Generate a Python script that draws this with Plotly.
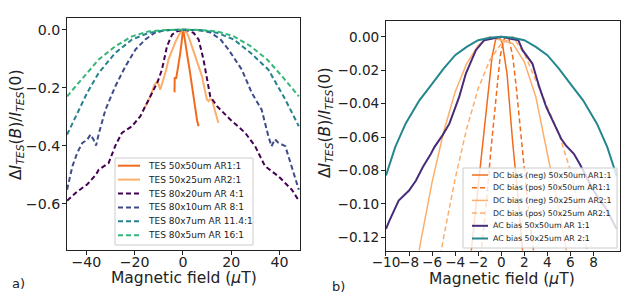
import plotly.graph_objects as go
from plotly.subplots import make_subplots

# ---------------- panel a) data ----------------
b_50x50 = [-3.7, -3.5, -3.4, -2.8, -2.2, -1.6, -1.1, -0.5, 0.0, 0.25, 0.8, 1.2, 1.65, 2.2, 2.75, 3.2, 3.7, 4.1, 4.4, 4.8, 5.3, 5.8, 6.2, 6.5]
v_50x50 = [-0.213, -0.213, -0.167, -0.167, -0.138, -0.11, -0.08, -0.04, 0.0, -0.006, -0.04, -0.06, -0.08, -0.11, -0.138, -0.165, -0.195, -0.22, -0.241, -0.255, -0.28, -0.31, -0.325, -0.333]

b_50x25 = [-16.3, -14.9, -13.0, -11.8, -10.8, -10.0, -9.4, -8.8, -8.0, -7.0, -6.0, -5.0, -3.9, -3.0, -1.8, -1.0, 0.0, 1.0, 1.65, 2.6, 3.7, 4.8, 5.8, 6.8, 7.9, 8.6, 9.2, 9.9, 10.6, 11.3, 12.0, 12.7, 13.4, 14.1, 14.7]
v_50x25 = [-0.275, -0.255, -0.22, -0.19, -0.18, -0.19, -0.207, -0.19, -0.175, -0.14, -0.103, -0.08, -0.057, -0.04, -0.02, -0.008, 0.0, -0.005, -0.011, -0.03, -0.057, -0.08, -0.103, -0.13, -0.161, -0.19, -0.218, -0.24, -0.247, -0.24, -0.241, -0.265, -0.287, -0.305, -0.322]

b_80x20 = [-48, -44, -39.7, -36, -34.9, -30.8, -28, -25.3, -21.1, -17.7, -14.9, -12.2, -10.5, -8.7, -7.5, -6.6, -4.5, -2.4, 0, 2.4, 4.4, 6.5, 8.5, 9.9, 11.3, 14.1, 16.8, 19.6, 22.3, 25.8, 29.9, 34, 39.6, 45.1, 48]
v_80x20 = [-0.59, -0.56, -0.534, -0.5, -0.483, -0.46, -0.40, -0.356, -0.333, -0.299, -0.253, -0.207, -0.18, -0.138, -0.09, -0.057, -0.017, -0.006, 0.0, -0.004, -0.011, -0.034, -0.103, -0.172, -0.23, -0.264, -0.287, -0.31, -0.33, -0.356, -0.402, -0.471, -0.506, -0.552, -0.59]

b_80x10 = [-48, -45.8, -43.8, -41.7, -39.7, -38.3, -37.0, -36.0, -34.9, -32.1, -28, -23.8, -19.7, -15.6, -11.5, -7.3, 0, 7.3, 11.5, 15.6, 18.9, 24.4, 28.5, 32.6, 35.4, 36.7, 38.1, 39.5, 42.4, 45.1, 48]
v_80x10 = [-0.552, -0.471, -0.425, -0.391, -0.38, -0.362, -0.38, -0.40, -0.36, -0.276, -0.195, -0.126, -0.069, -0.034, -0.01, -0.002, 0.0, -0.002, -0.01, -0.034, -0.069, -0.138, -0.218, -0.276, -0.368, -0.402, -0.378, -0.39, -0.402, -0.471, -0.552]

b_80x7 = [-48, -43.8, -39.7, -34.9, -28, -21.1, -14.2, -7, 0, 7, 14.2, 21.1, 28, 35.4, 42.4, 48]
v_80x7 = [-0.362, -0.287, -0.218, -0.149, -0.08, -0.034, -0.011, -0.002, 0.0, -0.002, -0.011, -0.034, -0.08, -0.138, -0.241, -0.333]

b_80x5 = [-48, -41.1, -34.9, -28, -21.1, -14.2, -7, 0, 7, 14.2, 21.1, 28, 34.9, 41.1, 48]
v_80x5 = [-0.23, -0.161, -0.103, -0.057, -0.023, -0.006, -0.001, 0.0, -0.001, -0.006, -0.023, -0.057, -0.103, -0.161, -0.23]

# ---------------- panel b) data ----------------
b_dcneg_50x50 = [-2.8, -2.4, -2.0, -1.6, -1.2, -0.8, -0.5, -0.3, -0.1, 0.1, 0.5, 1.0, 1.4, 1.8, 2.0]
v_dcneg_50x50 = [-0.141, -0.116, -0.091, -0.065, -0.038, -0.012, -0.002, 0.0, -0.001, -0.004, -0.022, -0.064, -0.092, -0.125, -0.14]

b_dcpos_50x50 = [-2.0, -1.7, -1.3, -0.9, -0.5, -0.1, 0.2, 0.4, 0.7, 1.0, 1.3, 1.8, 2.3, 2.8, 3.1]
v_dcpos_50x50 = [-0.145, -0.127, -0.1, -0.068, -0.04, -0.012, -0.002, 0.0, -0.002, -0.012, -0.03, -0.065, -0.1, -0.128, -0.145]

b_dcneg_50x25 = [-7.5, -7.0, -6.0, -5.0, -4.0, -3.0, -2.0, -1.0, 0.0, 1.0, 2.0, 3.0, 4.0, 5.0, 6.0]
v_dcneg_50x25 = [-0.143, -0.123, -0.087, -0.057, -0.033, -0.016, -0.005, 0.0, -0.002, -0.004, -0.015, -0.036, -0.07, -0.103, -0.142]

b_dcpos_50x25 = [-5.5, -5.0, -4.0, -3.0, -2.0, -1.0, 0.0, 1.0, 2.0, 3.0, 4.0, 5.0, 6.0, 7.0, 7.5]
v_dcpos_50x25 = [-0.14, -0.12, -0.085, -0.055, -0.031, -0.014, -0.004, 0.0, -0.01, -0.026, -0.042, -0.058, -0.08, -0.11, -0.13]

b_ac_50x50 = [-10.0, -9.7, -8.9, -8.6, -8.0, -7.4, -6.8, -6.1, -5.8, -5.4, -5.1, -4.5, -3.65, -3.07, -2.2, -1.48, 0.0, 1.48, 1.85, 2.7, 3.3, 3.9, 4.46, 5.04, 5.2, 5.6, 6.3, 6.8, 7.4, 8.0, 8.6, 9.2, 10.0]
v_ac_50x50 = [-0.115, -0.11, -0.098, -0.096, -0.092, -0.086, -0.078, -0.07, -0.066, -0.062, -0.059, -0.052, -0.036, -0.022, -0.008, -0.002, 0.0, -0.002, -0.008, -0.016, -0.03, -0.042, -0.05, -0.058, -0.061, -0.065, -0.07, -0.076, -0.084, -0.092, -0.098, -0.104, -0.115]

b_ac_50x25 = [-10.0, -9.2, -8.3, -7.1, -6.2, -5.0, -4.0, -3.0, -2.0, -1.0, 0.0, 1.0, 2.0, 3.0, 4.0, 5.0, 6.2, 7.1, 8.3, 9.2, 10.0]
v_ac_50x25 = [-0.083, -0.066, -0.052, -0.038, -0.03, -0.019, -0.011, -0.006, -0.002, -0.0005, 0.0, -0.0005, -0.002, -0.006, -0.011, -0.019, -0.03, -0.038, -0.052, -0.066, -0.083]

x_ticks_a = [-40, -20, 0, 20, 40]
y_ticks_a = [0.0, -0.2, -0.4, -0.6]
x_ticks_b = [-10, -8, -6, -4, -2, 0, 2, 4, 6, 8]
y_ticks_b = [0.0, -0.02, -0.04, -0.06, -0.08, -0.10, -0.12]

ORANGE_D = "#f26b1d"
ORANGE_L = "#fdae6b"
DASH = "5px,3px"

W, H = 627, 306
FONT = "DejaVu Sans"
INK = "#222222"

fig = make_subplots(rows=1, cols=2)

left = [
    ("TES 50x50um AR1:1", b_50x50, v_50x50, ORANGE_D, "solid", 2),
    ("TES 50x25um AR2:1", b_50x25, v_50x25, ORANGE_L, "solid", 2),
    ("TES 80x20um AR 4:1", b_80x20, v_80x20, "#440154", DASH, 2),
    ("TES 80x10um AR 8:1", b_80x10, v_80x10, "#3e4c8a", DASH, 2),
    ("TES 80x7um AR 11.4:1", b_80x7, v_80x7, "#26828e", DASH, 2),
    ("TES 80x5um AR 16:1", b_80x5, v_80x5, "#35b779", DASH, 2),
]
right = [
    ("DC bias (neg) 50x50um AR1:1", b_dcneg_50x50, v_dcneg_50x50, ORANGE_D, "solid", 1.5),
    ("DC bias (pos) 50x50um AR1:1", b_dcpos_50x50, v_dcpos_50x50, ORANGE_D, DASH, 1.5),
    ("DC bias (neg) 50x25um AR2:1", b_dcneg_50x25, v_dcneg_50x25, ORANGE_L, "solid", 1.5),
    ("DC bias (pos) 50x25um AR2:1", b_dcpos_50x25, v_dcpos_50x25, ORANGE_L, DASH, 1.5),
    ("AC bias 50x50um AR 1:1", b_ac_50x50, v_ac_50x50, "#472c7a", "solid", 2),
    ("AC bias 50x25um AR 2:1", b_ac_50x25, v_ac_50x25, "#24868e", "solid", 2),
]

for col, series in ((1, left), (2, right)):
    for name, x, y, c, d, w in series:
        fig.add_trace(go.Scatter(x=x, y=y, name=name, mode="lines", showlegend=False,
                                 line=dict(color=c, dash=d, width=w)), row=1, col=col)

axis_common = dict(showline=True, linecolor=INK, linewidth=1, mirror=True,
                   ticks="outside", ticklen=4, tickcolor=INK, showgrid=False,
                   zeroline=False, tickangle=0, automargin=False)

fig.update_xaxes(axis_common, ticklabelstandoff=-5)
fig.update_yaxes(axis_common, ticklabelstandoff=-1)
fig.update_xaxes(row=1, col=1, domain=[0.107, 0.4785], range=[-48, 48.5],
                 tickvals=x_ticks_a, tickfont=dict(family=FONT, size=14.2, color=INK))
fig.update_yaxes(row=1, col=1, domain=[0.183, 0.941], range=[-0.76, 0.04],
                 tickvals=y_ticks_a, tickformat=".1f", tickfont=dict(family=FONT, size=14.2, color=INK))
fig.update_xaxes(row=1, col=2, domain=[0.6156, 0.9888], range=[-10, 10.3],
                 tickvals=x_ticks_b, tickfont=dict(family=FONT, size=13.6, color=INK))
fig.update_yaxes(row=1, col=2, domain=[0.181, 0.932], range=[-0.128, 0.0096],
                 tickvals=y_ticks_b, tickformat=".2f", tickfont=dict(family=FONT, size=13.6, color=INK))

ytitle = "Δ<i>I</i><sub><i>TES</i></sub>(<i>B</i>)/<i>I</i><sub><i>TES</i></sub>(0)"
xtitle = "Magnetic field (<i>μ</i>T)"

shapes, annotations = [], []


def px(x):
    return x / W


def py(y):
    return 1 - y / H


def label(text, x, y, size, angle=0, xanchor="center"):
    annotations.append(dict(text=text, x=px(x), y=py(y), xref="paper", yref="paper",
                            showarrow=False, xanchor=xanchor, yanchor="middle", textangle=angle,
                            font=dict(family=FONT, size=size, color=INK)))


# axis titles
label(xtitle, 184, 277.5, 15.5)
label(xtitle, 502, 278.5, 15.5)
label(ytitle, 17, 125, 15.5, angle=-90)
label(ytitle, 326, 123, 15.5, angle=-90)
# panel labels
label("a)", 10, 283, 13, xanchor="left")
label("b)", 330, 286, 13, xanchor="left")


# ---------- legends (matplotlib-style boxes, built from the series lists) ----------
def add_legend(series, box, row0, step, sx0, sx1, tx, fsize):
    x0, y0, x1, y1 = box
    shapes.append(dict(type="rect", xref="paper", yref="paper", layer="above",
                       x0=px(x0), x1=px(x1), y0=py(y1), y1=py(y0),
                       fillcolor="rgba(255,255,255,0.8)", line=dict(color="#cccccc", width=1)))
    for i, (name, _x, _y, c, d, w) in enumerate(series):
        yc = row0 + i * step
        shapes.append(dict(type="line", xref="paper", yref="paper", layer="above",
                           x0=px(sx0), x1=px(sx1), y0=py(yc), y1=py(yc),
                           line=dict(color=c, dash=d, width=w)))
        label(name, tx, yc, fsize, xanchor="left")


add_legend(left, (115, 158, 253, 245), 165.7, 13.9, 118, 140, 146, 9.0)
add_legend(right, (463, 168, 617, 248), 175.0, 12.7, 472, 488, 491, 7.8)

fig.update_layout(
    width=W, height=H,
    margin=dict(l=0, r=0, t=0, b=0, autoexpand=False),
    paper_bgcolor="white", plot_bgcolor="white",
    showlegend=False,
    shapes=shapes,
    annotations=annotations,
)

fig.write_html("out.html", config={"displayModeBar": False},
               post_script="document.body.style.margin='0';")
